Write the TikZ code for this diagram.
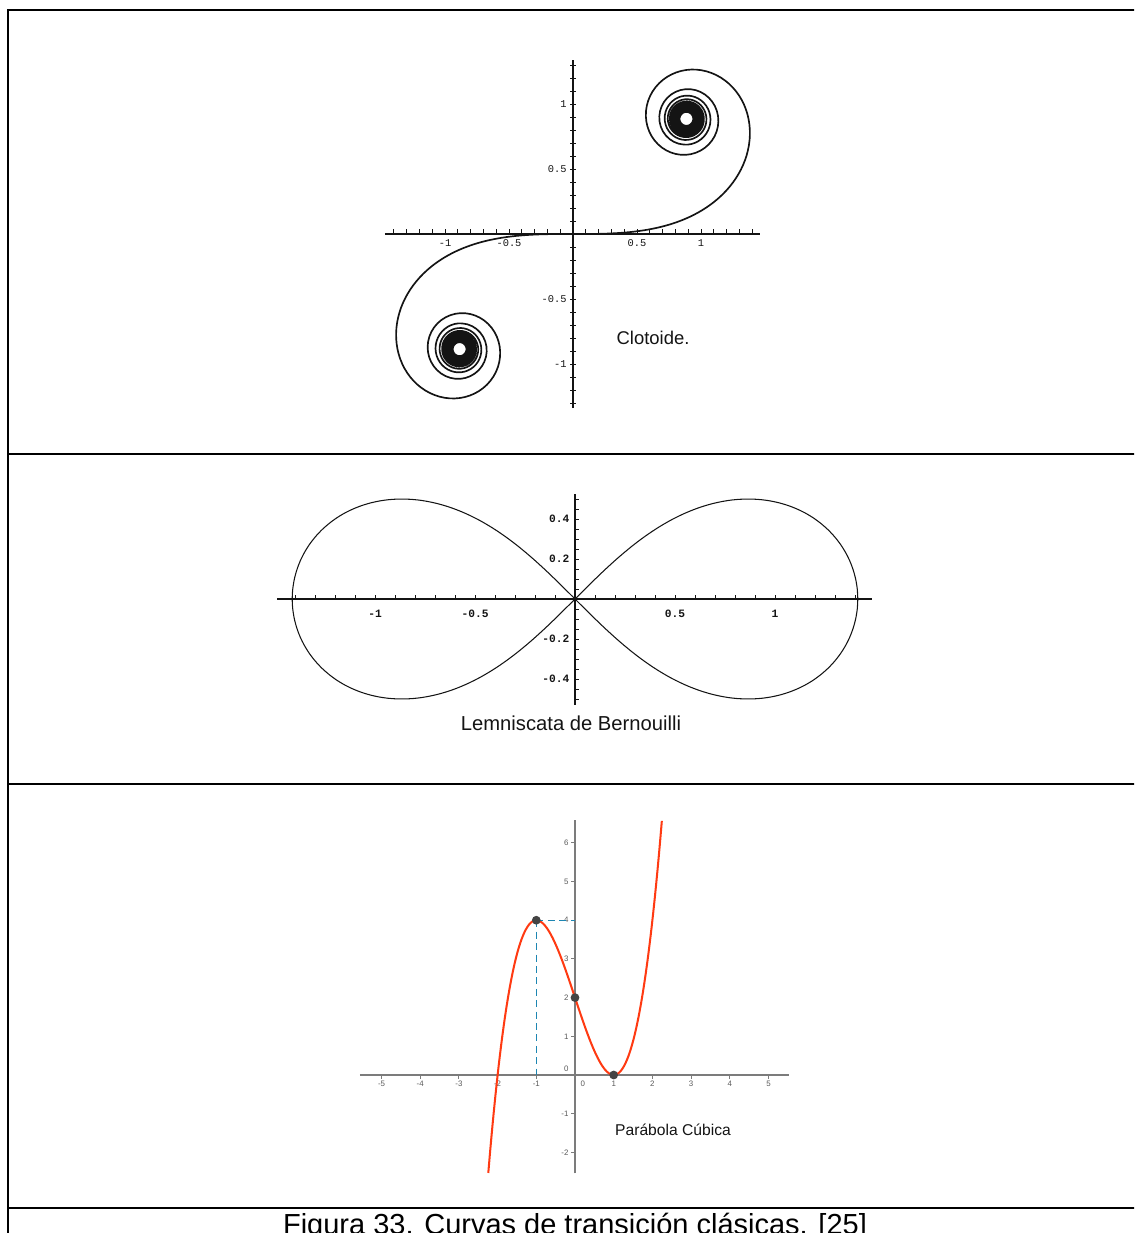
\documentclass[tikz,border=0pt]{standalone}
\usepackage{fontspec}
\setmainfont{Liberation Sans}
\setmonofont{Liberation Mono}
\usepackage{xcolor}
\usepackage{xfp}
\usepackage{tikz}
\definecolor{ink}{HTML}{141414}
\definecolor{cubred}{HTML}{FF3A12}
\definecolor{guideblue}{HTML}{1D86B2}
\definecolor{axisgray}{HTML}{7C7C7C}
\definecolor{dotgray}{HTML}{444444}
\definecolor{lblgray}{HTML}{5A5A5A}

\newcount\clotstep
\def\clotx{0}\def\cloty{0}
\def\clotpath{(0,0)}
\clotstep=0
\loop
  \advance\clotstep by 1
  \edef\clott{\fpeval{(\the\clotstep-0.5)/100}}
  \edef\clotx{\fpeval{\clotx+cos(\clott*\clott/2)/100}}
  \edef\cloty{\fpeval{\cloty+sin(\clott*\clott/2)/100}}
  \ifnum\numexpr\clotstep-4*(\clotstep/4)\relax=0
    \edef\clotpath{\clotpath--(\fpeval{round(\clotx,5)},\fpeval{round(\cloty,5)})}
  \fi
\ifnum\clotstep<500 \repeat
\clotstep=1
\loop
  \edef\clotth{\fpeval{12.5+0.15*\the\clotstep}}
  \edef\clott{\fpeval{sqrt(2*\clotth)}}
  \edef\clotpath{\clotpath--(\fpeval{round(sqrt(pi)/2+sin(\clotth)/\clott-cos(\clotth)/\clott^3,5)},\fpeval{round(sqrt(pi)/2-cos(\clotth)/\clott-sin(\clotth)/\clott^3,5)})}
  \advance\clotstep by 1
\ifnum\clotstep<1120 \repeat

\begin{document}
\begin{tikzpicture}[x=0.02cm,y=-0.02cm]
    \tikzset{
      frameline/.style={draw=black,line width=1.15pt},
      mathaxis/.style={draw=ink,line width=0.65pt},
      mathtick/.style={draw=ink,line width=0.45pt},
      spiral/.style={draw=ink,line width=0.95pt,line join=round},
      lemcurve/.style={draw=ink,line width=0.6pt,line join=round},
      clotlbl/.style={font=\ttfamily\fontsize{5.9}{6.5}\selectfont,text=ink,inner sep=0pt},
      lemlbl/.style={font=\ttfamily\bfseries\fontsize{6.4}{7}\selectfont,text=ink,inner sep=0pt},
      geoaxis/.style={draw=axisgray,line width=0.75pt},
      geotick/.style={draw=axisgray,line width=0.5pt},
      geolbl/.style={font=\fontsize{4.5}{5}\selectfont,text=lblgray,inner sep=0pt},
      cubcurve/.style={draw=cubred,line width=1.15pt},
      guide/.style={draw=guideblue,line width=0.8pt,dash pattern=on 4pt off 2.5pt},
      dot/.style={circle,fill=dotgray,inner sep=0pt,minimum size=5pt},
      plotname/.style={text=ink,inner sep=0pt}
    }
    \path[use as bounding box,clip] (0,0) rectangle (1134,1233);
    \draw[frameline] (8,1240) -- (8,10) -- (1140,10);
    \foreach \y in {454,784,1208}
      \draw[frameline] (8,\y) -- (1140,\y);

    \begin{scope}[shift={(573,234)},x=2.56cm,y=2.6cm]
      \draw[mathaxis] (-1.47,0) -- (1.46,0);
      \draw[mathaxis] (0,-1.34) -- (0,1.34);
      \foreach \k in {-14,...,14}
        \draw[mathtick] (\k/10,0) -- ++(0,3pt);
      \foreach \k in {-13,...,13}
        \draw[mathtick] ([xshift=-1.5pt]0,\k/10) -- ++(3pt,0);
      \foreach \v [count=\n] in {-1,-0.5,0.5,1}
        \node[clotlbl,anchor=north,yshift=-3.2pt] (clx\n) at (\v,0) {\v};
      \foreach \v [count=\n] in {-1,-0.5,0.5,1}
        \node[clotlbl,anchor=east,xshift=-3.5pt] (cly\n) at (0,\v) {\v};
      \draw[spiral] \clotpath;
      \draw[spiral,rotate=180] \clotpath;
    \end{scope}
    \node[plotname,font=\fontsize{10.5}{12}\selectfont] (clotname) at (653,338) {Clotoide.};

    \begin{scope}[shift={(575,599)},x=4cm,y=4cm]
      \draw[mathaxis] (-1.49,0) -- (1.485,0);
      \draw[mathaxis] (0,-0.53) -- (0,0.525);
      \foreach \k in {-14,...,14}
        \draw[mathtick] (\k/10,0) -- ++(0,2.5pt);
      \foreach \k in {-10,...,10}
        \draw[mathtick] (0,\k/20) -- ++(2.5pt,0);
      \foreach \v [count=\n] in {-1,-0.5,0.5,1}
        \node[lemlbl,anchor=north,yshift=-6pt] (lmx\n) at (\v,0) {\v};
      \foreach \v [count=\n] in {0.4,0.2,-0.2,-0.4}
        \node[lemlbl,anchor=east,xshift=-3pt] (lmy\n) at (0,\v) {\v};
      \draw[lemcurve] plot[domain=0:360,samples=181,smooth,variable=\t]
        ({sqrt(2)*cos(\t)/(1+sin(\t)^2)},{sqrt(2)*sin(\t)*cos(\t)/(1+sin(\t)^2)}) -- cycle;
    \end{scope}
    \node[plotname,font=\fontsize{11.5}{13}\selectfont] (lemname) at (571,723) {Lemniscata de Bernouilli};

    \begin{scope}[shift={(575,1075)},x=0.774cm,y=0.774cm]
      \draw[geoaxis] (-5.56,0) -- (5.53,0);
      \draw[geoaxis] (0,-2.54) -- (0,6.6);
      \foreach \k in {-5,...,5}
        \draw[geotick] (\k,0) -- ++(0,-2pt);
      \foreach \k in {-2,...,6}
        \draw[geotick] (0,\k) -- ++(-2pt,0);
      \foreach \v [count=\n] in {-5,-4,-3,-2,-1,1,2,3,4,5}
        \node[geolbl,anchor=north,yshift=-3pt] (gx\n) at (\v,0) {\v};
      \foreach \v [count=\n] in {-2,-1,1,2,3,4,5,6}
        \node[geolbl,anchor=east,xshift=-3.5pt] (gy\n) at (0,\v) {\v};
      \node[geolbl,anchor=north west,xshift=3pt,yshift=-3pt] (gx0) at (0,0) {0};
      \node[geolbl,anchor=south east,xshift=-3.5pt,yshift=2pt] (gy0) at (0,0) {0};
      \draw[cubcurve] plot[domain=-2.241:2.245,samples=120,smooth] (\x,{\x*\x*\x-3*\x+2});
      \coordinate (ptop) at (-1,4);
      \coordinate (xfoot) at (-1,0);
      \coordinate (yfoot) at (0,4);
      \draw[guide] (ptop) -- (xfoot);
      \draw[guide] (ptop) -- (yfoot);
      \node[dot] (pmax) at (ptop) {};
      \node[dot] (pcut) at (0,2) {};
      \node[dot] (pmin) at (1,0) {};
    \end{scope}
    \node[plotname,font=\fontsize{8.9}{10}\selectfont] (cubname) at (673,1130) {Parábola Cúbica};

    \node[font=\fontsize{16.5}{18}\selectfont,text=black,inner sep=0pt,anchor=base] (figcap) at (575,1234) {Figura 33. Curvas de transición clásicas. [25]};
  \end{tikzpicture}
\end{document}
